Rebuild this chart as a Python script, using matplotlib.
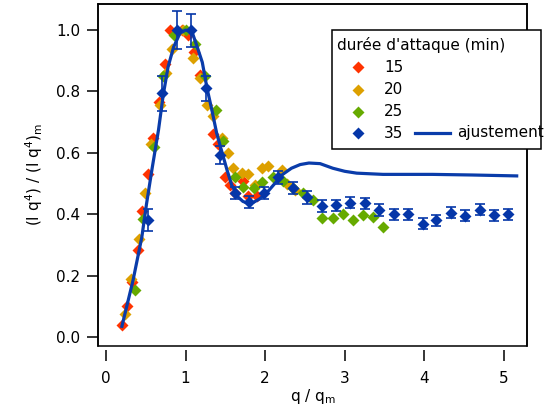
import matplotlib
matplotlib.use("Agg")
import matplotlib.pyplot as plt
from matplotlib.lines import Line2D
from matplotlib.patches import Rectangle

# durée d'attaque 15 min
q15 = [0.20, 0.27, 0.33, 0.40, 0.45, 0.53, 0.59, 0.67, 0.74, 0.80, 0.88, 0.95, 1.03, 1.10,
       1.18, 1.35, 1.41, 1.50, 1.56, 1.62, 1.72, 1.79, 1.90]
y15 = [0.04, 0.10, 0.18, 0.285, 0.41, 0.53, 0.65, 0.765, 0.89, 1.00, 0.99, 1.00, 0.985, 0.93,
       0.855, 0.66, 0.63, 0.52, 0.495, 0.47, 0.51, 0.46, 0.46]

# 20 min
q20 = [0.24, 0.32, 0.41, 0.49, 0.57, 0.68, 0.75, 0.83, 0.97, 1.09, 1.18, 1.27, 1.34, 1.46,
       1.53, 1.60, 1.71, 1.79, 1.87, 1.96, 2.03, 2.21, 2.28, 2.38]
y20 = [0.075, 0.19, 0.32, 0.47, 0.63, 0.755, 0.86, 0.94, 1.00, 0.91, 0.845, 0.755, 0.72, 0.65,
       0.60, 0.55, 0.535, 0.53, 0.495, 0.55, 0.557, 0.545, 0.50, 0.48]

# 25 min
q25 = [0.36, 0.46, 0.60, 0.72, 0.85, 1.00, 1.12, 1.24, 1.38, 1.47, 1.62, 1.72, 1.86, 1.96,
       2.10, 2.22, 2.35, 2.47, 2.60, 2.72, 2.85, 2.98, 3.10, 3.23, 3.35, 3.48]
y25 = [0.155, 0.385, 0.62, 0.85, 0.985, 1.00, 0.955, 0.85, 0.74, 0.64, 0.52, 0.49, 0.485, 0.505,
       0.52, 0.51, 0.485, 0.47, 0.445, 0.387, 0.387, 0.40, 0.38, 0.397, 0.39, 0.36]

# 35 min, with error bars
q35 = [0.53, 0.71, 0.89, 1.07, 1.26, 1.43, 1.62, 1.80, 1.98, 2.16, 2.35, 2.53, 2.71, 2.89,
       3.07, 3.25, 3.43, 3.62, 3.79, 3.98, 4.15, 4.33, 4.51, 4.70, 4.87, 5.05]
y35 = [0.38, 0.795, 1.00, 1.00, 0.81, 0.593, 0.47, 0.44, 0.47, 0.52, 0.485, 0.455, 0.427, 0.43,
       0.437, 0.436, 0.414, 0.40, 0.40, 0.37, 0.38, 0.405, 0.395, 0.415, 0.397, 0.40]
e35 = [0.036, 0.057, 0.062, 0.054, 0.041, 0.03, 0.02, 0.02, 0.02, 0.02, 0.02, 0.02, 0.018, 0.018,
       0.018, 0.018, 0.018, 0.018, 0.018, 0.018, 0.018, 0.018, 0.018, 0.018, 0.018, 0.018]

# ajustement
q_fit = [0.20, 0.27, 0.34, 0.45, 0.51, 0.58, 0.66, 0.72, 0.78, 0.85, 0.93, 1.00, 1.08, 1.14,
         1.21, 1.27, 1.33, 1.39, 1.46, 1.52, 1.58, 1.66, 1.72, 1.78, 1.86, 1.93, 2.02, 2.12,
         2.22, 2.33, 2.44, 2.55, 2.69, 2.85, 3.00, 3.15, 3.48, 4.10, 4.60, 5.16]
y_fit = [0.035, 0.11, 0.185, 0.325, 0.435, 0.55, 0.675, 0.79, 0.88, 0.945, 0.99, 1.00, 0.995, 0.95,
         0.895, 0.81, 0.74, 0.665, 0.60, 0.545, 0.495, 0.456, 0.442, 0.436, 0.44, 0.45, 0.47, 0.50,
         0.53, 0.55, 0.562, 0.567, 0.565, 0.55, 0.54, 0.534, 0.53, 0.53, 0.528, 0.525]

labels = ["15", "20", "25", "35"]
colors = ["#FF3300", "#DDA000", "#66AA00", "#0536A8"]
fit_color = "#0A3CAA"

plt.rcParams["font.family"] = ["DejaVu Sans"]
plt.rcParams["font.size"] = 11

fig = plt.figure(figsize=(5.56, 4.11), dpi=100)
ax = fig.add_axes([0.1763, 0.1589, 0.7716, 0.8314])

ms = 6.2
ax.plot(q15, y15, "D", color=colors[0], ms=ms, mec="none")
ax.plot(q20, y20, "D", color=colors[1], ms=ms, mec="none")
ax.plot(q25, y25, "D", color=colors[2], ms=ms, mec="none")
ax.errorbar(q35, y35, yerr=e35, fmt="D", color=colors[3], ms=ms, mec="none",
            ecolor=colors[3], elinewidth=1.2, capsize=3.5, capthick=1.2)
ax.plot(q_fit, y_fit, "-", color=fit_color, lw=2.3)

ax.set_xlim(-0.1, 5.29)
ax.set_ylim(-0.028, 1.085)
ax.set_xticks([0, 1, 2, 3, 4, 5])
ax.set_yticks([0.0, 0.2, 0.4, 0.6, 0.8, 1.0])
ax.set_yticklabels(["0.0", "0.2", "0.4", "0.6", "0.8", "1.0"])
ax.tick_params(direction="out", length=8, width=1.1, colors="black")
ax.tick_params(axis="x", pad=7)
ax.tick_params(axis="y", pad=5)
for sp in ax.spines.values():
    sp.set_linewidth(1.1)

# x axis sits a little below the frame, like Igor
ax.spines["bottom"].set_position(("outward", 3))
ax.spines["bottom"].set_visible(False)
ax.add_patch(Rectangle((0, 0), 1, 1, transform=ax.transAxes, fill=False,
                       edgecolor="black", lw=1.1, clip_on=False, zorder=4))

ax.set_xlabel(r"q / q$_{\mathrm{m}}$", labelpad=1)
ax.set_ylabel(r"(I q$^{4}$) / (I q$^{4}$)$_{\mathrm{m}}$", labelpad=8)

# legend box, drawn in figure pixels (Igor style: 35 and fit on one row)
W, H = 556.0, 411.0
def fx(px):
    return px / W
def fy(py):
    return 1 - py / H

fig.add_artist(Rectangle((fx(332), fy(149)), fx(541) - fx(332), fy(30) - fy(149),
                         transform=fig.transFigure, facecolor="white",
                         edgecolor="black", lw=1.1, zorder=5))
fig.text(fx(337), fy(45), "durée d'attaque (min)", va="center", ha="left", zorder=6)
rows = [67, 90, 112, 133]
for lab, col, ry in zip(labels, colors, rows):
    fig.add_artist(Line2D([fx(358)], [fy(ry)], marker="D", color=col, ms=ms, mec="none",
                          transform=fig.transFigure, zorder=6))
    fig.text(fx(384), fy(ry), lab, va="center", ha="left", zorder=6)
fig.add_artist(Line2D([fx(415), fx(450)], [fy(133), fy(133)], color=fit_color, lw=2.3,
                      transform=fig.transFigure, zorder=6))
fig.text(fx(457), fy(133), "ajustement", va="center", ha="left", zorder=6)

fig.savefig("out.png", dpi=100)
